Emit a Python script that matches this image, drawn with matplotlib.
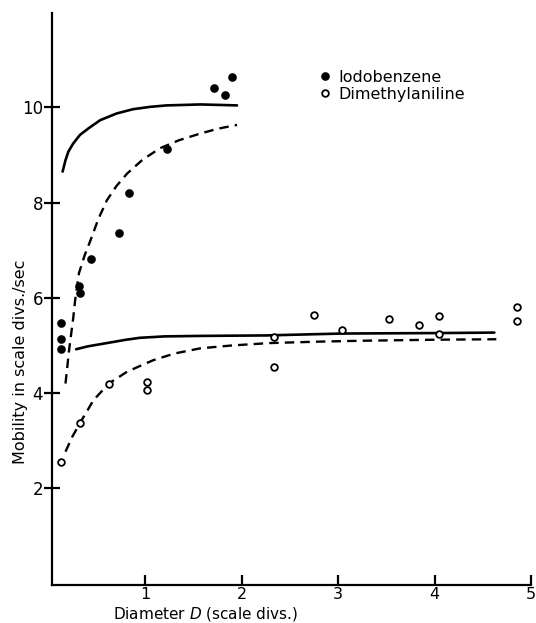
import matplotlib
matplotlib.use("Agg")
import matplotlib.pyplot as plt

# measured points
iodo_d = [0.12, 0.12, 0.12, 0.31, 0.32, 0.43, 0.73, 0.83, 1.22, 1.71, 1.82, 1.90]
iodo_mob = [5.48, 5.13, 4.92, 6.25, 6.11, 6.82, 7.36, 8.21, 9.12, 10.41, 10.26, 10.63]

dma_d = [0.12, 0.32, 0.62, 1.02, 1.02, 2.33, 2.33, 2.75, 3.04, 3.53, 3.84, 4.05, 4.05, 4.85, 4.85]
dma_mob = [2.55, 3.37, 4.20, 4.24, 4.06, 5.18, 4.55, 5.64, 5.32, 5.55, 5.43, 5.62, 5.25, 5.80, 5.52]

# theoretical curves (solid / dashed)
iodo_solid_d = [0.14, 0.17, 0.20, 0.25, 0.32, 0.41, 0.53, 0.70, 0.87, 1.05, 1.22, 1.40, 1.57, 1.95]
iodo_solid_mob = [8.65, 8.89, 9.07, 9.24, 9.42, 9.56, 9.73, 9.87, 9.96, 10.01, 10.04, 10.05, 10.06, 10.04]

iodo_dash_d = [0.17, 0.21, 0.25, 0.27, 0.31, 0.37, 0.43, 0.51, 0.60, 0.70, 0.81, 0.97, 1.15, 1.35, 1.57, 1.75, 1.95]
iodo_dash_mob = [4.20, 4.95, 5.57, 5.95, 6.52, 6.90, 7.21, 7.65, 8.05, 8.35, 8.61, 8.90, 9.14, 9.31, 9.45, 9.55, 9.63]

dma_solid_d = [0.28, 0.40, 0.60, 0.80, 0.94, 1.20, 1.57, 2.25, 3.04, 4.05, 4.62]
dma_solid_mob = [4.92, 4.98, 5.05, 5.12, 5.16, 5.19, 5.20, 5.21, 5.25, 5.26, 5.27]

dma_dash_d = [0.17, 0.24, 0.32, 0.46, 0.62, 0.81, 1.08, 1.30, 1.57, 1.90, 2.29, 2.80, 3.29, 4.00, 4.64]
dma_dash_mob = [2.77, 3.08, 3.37, 3.85, 4.20, 4.45, 4.69, 4.83, 4.94, 5.00, 5.05, 5.08, 5.10, 5.12, 5.13]

xticks = [1, 2, 3, 4, 5]
yticks = [2, 4, 6, 8, 10]

plt.rcParams['font.family'] = ['DejaVu Sans']

fig = plt.figure(figsize=(5.36, 6.23), dpi=100)
ax = fig.add_axes([52 / 536, 1 - 585 / 623, 479 / 536, 572 / 623])

ax.plot(iodo_solid_d, iodo_solid_mob, color='black', lw=1.9, solid_capstyle='round')
ax.plot(dma_solid_d, dma_solid_mob, color='black', lw=1.9, solid_capstyle='round')
l1, = ax.plot(iodo_dash_d, iodo_dash_mob, color='black', lw=1.7)
l2, = ax.plot(dma_dash_d, dma_dash_mob, color='black', lw=1.7)
for ln in (l1, l2):
    ln.set_dashes((4, 2.6))

ax.plot(iodo_d, iodo_mob, 'o', ms=5.2, color='black', label='Iodobenzene')
ax.plot(dma_d, dma_mob, 'o', ms=4.8, mfc='white', mec='black', mew=1.3,
        label='Dimethylaniline')

ax.set_xlim(0.03, 5.0)
ax.set_ylim(-0.03, 11.98)
ax.set_xticks(xticks)
ax.set_yticks(yticks)
ax.tick_params(axis='x', direction='in', length=7, width=1.6, labelsize=11.5, pad=1.5)
ax.tick_params(axis='y', direction='inout', length=11, width=1.6, labelsize=12, pad=1)

for side in ('top', 'right'):
    ax.spines[side].set_visible(False)
for side in ('left', 'bottom'):
    ax.spines[side].set_linewidth(1.6)

ax.set_xlabel('Diameter $D$ (scale divs.)', fontsize=11, va='center')
ax.xaxis.set_label_coords(0.32, -0.050)
ax.set_ylabel('Mobility in scale divs./sec', fontsize=11.5, va='center')
ax.yaxis.set_label_coords(-0.066, 0.39)

ax.legend(loc='upper left', bbox_to_anchor=(0.545, 0.915), frameon=False,
          handlelength=0.5, handletextpad=0.6, borderpad=0, labelspacing=0.15,
          fontsize=11.5, markerscale=1.0)

fig.savefig('out.png', dpi=100)
